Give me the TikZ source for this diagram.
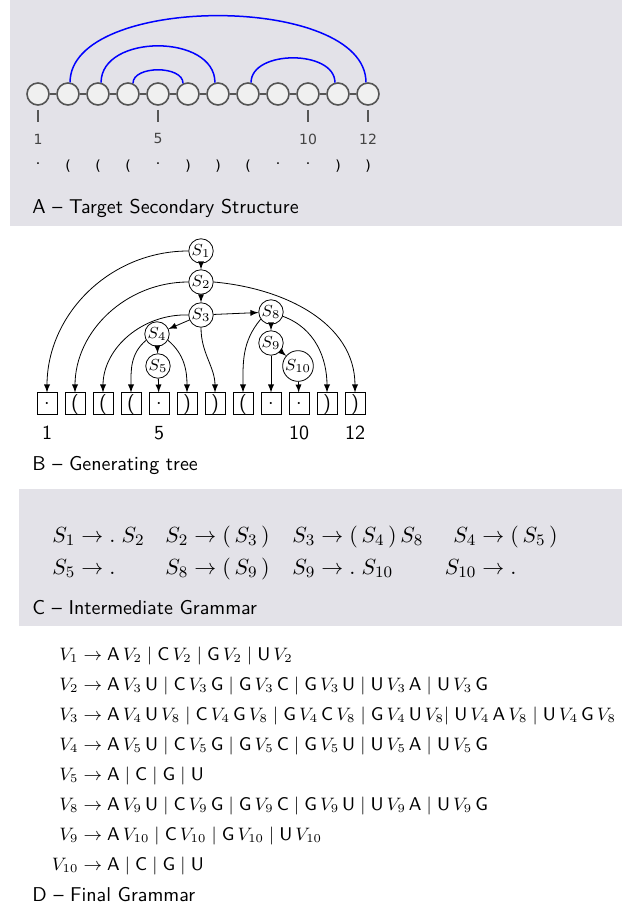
\documentclass[tikz,border=0pt]{standalone}
\usepackage{fontspec}
\newfontfamily\seqfont{DejaVu Sans}
\definecolor{panelgray}{RGB}{227,226,232}
\definecolor{basefill}{RGB}{240,240,240}
\definecolor{basedraw}{RGB}{85,85,85}
\definecolor{labelgray}{RGB}{68,68,68}
\newcommand{\lhs}[1]{\llap{$#1$}}
\newcommand{\nuc}[1]{\mathsf{#1}}
\tikzset{
	base/.style={circle, draw=basedraw, fill=basefill, line width=0.8pt, minimum size=11pt, inner sep=0pt},
	backbone/.style={draw=basedraw, line width=0.8pt},
	pairarc/.style={blue, line width=0.75pt},
	seqlabel/.style={font=\seqfont\fontsize{7}{8}\selectfont, text=labelgray, inner sep=0pt},
	nt/.style={circle, draw, line width=0.4pt, inner sep=0.3pt, minimum size=11pt, font=\footnotesize},
	term/.style={draw, line width=0.5pt, minimum width=10pt, minimum height=11pt, inner sep=0pt, font=\sffamily},
	treeedge/.style={-latex, line width=0.4pt},
	prod/.style={anchor=base west, inner sep=0pt},
	caption/.style={anchor=west, inner sep=0pt, font=\sffamily},
}
\begin{document}
\begin{tikzpicture}[x=0.5pt,y=0.5pt]
	\useasboundingbox (0,0) rectangle (640,-913);
	\fill[panelgray] (10,0) rectangle (622,-226);
	\foreach \i in {1,...,12}
		\node[base] (c\i) at ({38+30*(\i-1)},-94) {};
	\foreach \i [evaluate=\i as \j using int(\i+1)] in {1,...,11}
		\draw[backbone] (c\i) -- (c\j);
	\draw[pairarc] (c2.80) .. controls +(0,89) and +(0,89) .. (c12.100);
	\draw[pairarc] (c3.75) .. controls +(0,49) and +(0,49) .. (c7.105);
	\draw[pairarc] (c4.65) .. controls +(0,18) and +(0,18) .. (c6.115);
	\draw[pairarc] (c8.75) .. controls +(0,33) and +(0,33) .. (c11.105);
	\foreach \i in {1,5,10,12} {
		\draw[backbone, line width=0.7pt] (c\i |- 0,-110) -- (c\i |- 0,-122);
		\node[seqlabel] (n\i) at (c\i |- 0,-139) {\i};
	}
	\foreach \i/\sym in {1/{·},2/{(},3/{(},4/{(},5/{·},6/{)},7/{)},8/{(},9/{·},10/{·},11/{)},12/{)}}
		\node[seqlabel, text=black] (d\i) at (c\i |- 0,-166) {\sym};
	\node[caption] (capA) at (32,-208) {A -- Target Secondary Structure};

	\node[nt] (s1) at (201,-251) {$S_1$};
	\node[nt] (s2) at (201,-282) {$S_2$};
	\node[nt] (s3) at (201,-315) {$S_3$};
	\node[nt] (s4) at (157,-334) {$S_4$};
	\node[nt] (s5) at (158,-366) {$S_5$};
	\node[nt] (s8) at (271,-312) {$S_8$};
	\node[nt] (s9) at (271,-343) {$S_9$};
	\node[nt] (s10) at (298,-366) {$S_{10}$};
	\foreach \i/\sym in {1/$\cdot$,2/{(},3/{(},4/{(},5/$\cdot$,6/{)},7/{)},8/{(},9/$\cdot$,10/$\cdot$,11/{)},12/{)}}
		\node[term] (b\i) at ({47+28*(\i-1)},-404) {\sym};
	\foreach \i in {1,5,10,12}
		\node[font=\sffamily, inner sep=0pt] (m\i) at (b\i |- 0,-433) {\i};
	\draw[treeedge] (s1) -- (s2);
	\draw[treeedge] (s1.west) to[out=180,in=90] (b1.north);
	\draw[treeedge] (s2) -- (s3);
	\draw[treeedge] (s2.west) to[out=180,in=90] (b2.north);
	\draw[treeedge] (s2.east) to[out=-5,in=90] (b12.north);
	\draw[treeedge] (s3.west) to[out=178,in=90] (b3.north);
	\draw[treeedge] (s3) -- (s4);
	\draw[treeedge] (s3.south) to[out=-90,in=90] (b7.north);
	\draw[treeedge] (s3) -- (s8);
	\draw[treeedge] (s4.210) to[out=220,in=90] (b4.north);
	\draw[treeedge] (s4) -- (s5);
	\draw[treeedge] (s4.-30) to[out=-40,in=90] (b6.north);
	\draw[treeedge] (s5) -- (b5);
	\draw[treeedge] (s8.215) to[out=230,in=90] (b8.north);
	\draw[treeedge] (s8) -- (s9);
	\draw[treeedge] (s8.-20) to[out=-20,in=90] (b11.north);
	\draw[treeedge] (s9) -- (b9);
	\draw[treeedge] (s9) -- (s10);
	\draw[treeedge] (s10) -- (b10);
	\node[caption] (capB) at (32,-465) {B -- Generating tree};

	\fill[panelgray] (19,-489) rectangle (622,-626);
	\begin{scope}[every node/.style={prod, font=\fontsize{11}{13}\selectfont}]
		\node (r1) at (75,-542) {$\lhs{S_1}\to .\;S_2$};
		\node (r2) at (188,-542) {$\lhs{S_2}\to (\,S_3\,)$};
		\node (r3) at (315,-542) {$\lhs{S_3}\to (\,S_4\,)\,S_8$};
		\node (r4) at (476,-542) {$\lhs{S_4}\to (\,S_5\,)$};
		\node (r5) at (75,-574) {$\lhs{S_5}\to .$};
		\node (r8) at (188,-574) {$\lhs{S_8}\to (\,S_9\,)$};
		\node (r9) at (315,-574) {$\lhs{S_9}\to .\;S_{10}$};
		\node (r10) at (476,-574) {$\lhs{S_{10}}\to .$};
	\end{scope}
	\node[caption] (capC) at (32,-608) {C -- Intermediate Grammar};

	\begin{scope}[every node/.style={prod, font=\fontsize{9.2}{11}\selectfont}]
		\node (g1) at (78,-660) {$\lhs{V_1}\to \nuc{A}\,V_2 \mid \nuc{C}\,V_2 \mid \nuc{G}\,V_2 \mid \nuc{U}\,V_2$};
		\node (g2) at (78,-690) {$\lhs{V_2}\to \nuc{A}\,V_3\,\nuc{U} \mid \nuc{C}\,V_3\,\nuc{G} \mid \nuc{G}\,V_3\,\nuc{C} \mid \nuc{G}\,V_3\,\nuc{U} \mid \nuc{U}\,V_3\,\nuc{A} \mid \nuc{U}\,V_3\,\nuc{G}$};
		\node (g3) at (78,-720) {$\lhs{V_3}\to \nuc{A}\,V_4\,\nuc{U}\,V_8 \mid \nuc{C}\,V_4\,\nuc{G}\,V_8 \mid \nuc{G}\,V_4\,\nuc{C}\,V_8 \mid \nuc{G}\,V_4\,\nuc{U}\,V_8|\;\nuc{U}\,V_4\,\nuc{A}\,V_8 \mid \nuc{U}\,V_4\,\nuc{G}\,V_8$};
		\node (g4) at (78,-750) {$\lhs{V_4}\to \nuc{A}\,V_5\,\nuc{U} \mid \nuc{C}\,V_5\,\nuc{G} \mid \nuc{G}\,V_5\,\nuc{C} \mid \nuc{G}\,V_5\,\nuc{U} \mid \nuc{U}\,V_5\,\nuc{A} \mid \nuc{U}\,V_5\,\nuc{G}$};
		\node (g5) at (78,-780) {$\lhs{V_5}\to \nuc{A} \mid \nuc{C} \mid \nuc{G} \mid \nuc{U}$};
		\node (g8) at (78,-810) {$\lhs{V_8}\to \nuc{A}\,V_9\,\nuc{U} \mid \nuc{C}\,V_9\,\nuc{G} \mid \nuc{G}\,V_9\,\nuc{C} \mid \nuc{G}\,V_9\,\nuc{U} \mid \nuc{U}\,V_9\,\nuc{A} \mid \nuc{U}\,V_9\,\nuc{G}$};
		\node (g9) at (78,-840) {$\lhs{V_9}\to \nuc{A}\,V_{10} \mid \nuc{C}\,V_{10} \mid \nuc{G}\,V_{10} \mid \nuc{U}\,V_{10}$};
		\node (g10) at (78,-870) {$\lhs{V_{10}}\to \nuc{A} \mid \nuc{C} \mid \nuc{G} \mid \nuc{U}$};
	\end{scope}
	\node[caption] (capD) at (32,-895) {D -- Final Grammar};
\end{tikzpicture}
\end{document}
